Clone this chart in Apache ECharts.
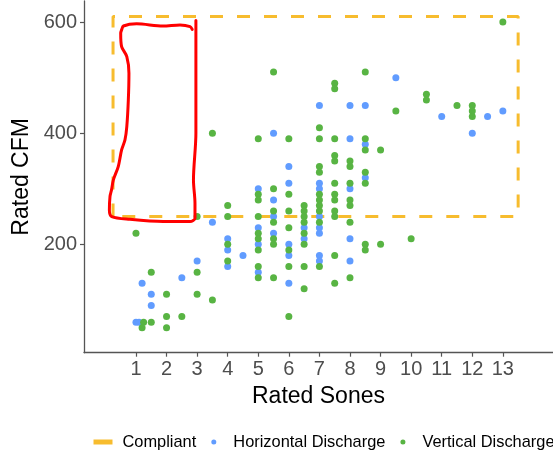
<!DOCTYPE html>
<html>
<head>
<meta charset="utf-8">
<script src="https://cdn.jsdelivr.net/npm/echarts@6/dist/echarts.min.js"></script>
<style>html,body{margin:0;padding:0;background:#fff;}#c{width:553px;height:451px;}</style>
</head>
<body>
<div id="c"></div>
<script>
// Tick labels
const xTicks = [1,2,3,4,5,6,7,8,9,10,11,12,13];
const yTicks = [200,400,600];

// Horizontal Discharge [sones, cfm]
const horizontalDischarge = [
  [1,60],[1.1,60],[1.2,130],[1.5,110],[1.5,90],[2.5,140],[3,170],[3.5,240],
  [4,210],[4,190],[4,160],[4.5,180],
  [5,300],[5,230],[5,200],[5,150],
  [5.5,400],[5.5,280],[5.5,250],[5.5,220],
  [6,340],[6,310],[6,200],[6,180],[6,130],
  [6.5,230],[6.5,210],
  [7,450],[7,310],[7,300],[7,250],[7,230],[7,220],[7,180],[7,170],
  [8,450],[8,390],[8,300],[8,210],[8,170],
  [8.5,450],[8.5,380],[8.5,320],
  [9.5,500],[11,430],[12,400],[12.5,430],[13,440]
];

// Vertical Discharge [sones, cfm]
const verticalDischarge = [
  [1,220],[1.25,60],[1.5,60],[1.2,50],[1.5,150],[2,110],[2,70],[2,50],[2.5,70],
  [3,250],[3,150],[3,110],[3.5,100],[3.5,400],
  [4,270],[4,250],[4,200],[4,170],
  [5,390],[5,290],[5,280],[5,250],[5,220],[5,210],[5,190],[5,160],[5,140],
  [5.5,510],[5.5,300],[5.5,260],[5.5,240],[5.5,210],[5.5,200],[5.5,140],
  [6,390],[6,290],[6,260],[6,230],[6,190],[6,160],[6,70],
  [6.5,270],[6.5,260],[6.5,250],[6.5,240],[6.5,220],[6.5,200],[6.5,160],[6.5,120],
  [7,410],[7,390],[7,340],[7,330],[7,290],[7,280],[7,270],[7,260],[7,240],[7,160],
  [7.5,490],[7.5,480],[7.5,390],[7.5,360],[7.5,350],[7.5,310],[7.5,290],[7.5,280],[7.5,260],[7.5,250],[7.5,180],[7.5,130],
  [8,350],[8,340],[8,310],[8,280],[8,270],[8,240],[8,140],
  [8.5,510],[8.5,390],[8.5,370],[8.5,330],[8.5,310],[8.5,200],[8.5,190],
  [9,370],[9,200],[9.5,440],[10,210],[10.5,470],[10.5,460],[11.5,450],
  [12,450],[12,440],[12,430],[13,600]
];

// Compliant region outline [sones, cfm]
const compliantBox = [[0.25,250],[0.25,610],[13.5,610],[13.5,250],[0.25,250]];

// Hand-drawn red annotation, in data units [sones, cfm]
const annotationPath = [
  [2.84,587],[2.77,592],[2.44,595],[1.88,593],[1.02,597],[0.59,593],[0.53,586],[0.50,580],
  [0.53,556],[0.70,538],[0.77,508],[0.75,460],[0.70,412],[0.64,388],[0.53,370],[0.42,340],
  [0.26,316],[0.20,298],[0.15,286],[0.13,262],[0.21,250],[0.80,245],[1.89,241],[2.77,241],
  [2.93,247],[2.93,274],[2.88,316],[2.96,400],[2.96,520],[2.96,603]
];

const FONT = 'Liberation Sans, Arial, sans-serif';
const BLUE = '#619CFF';
const GREEN = '#58B443';
const GOLD = '#F7BC2E';

const chart = echarts.init(document.getElementById('c'), null, {renderer:'canvas'});
chart.setOption({
  animation: false,
  backgroundColor: '#fff',
  grid: {left: 84, right: 0, top: 1, bottom: 98.3, containLabel: false},
  xAxis: {
    type: 'value', min: -0.7, max: 14.64,
    name: 'Rated Sones', nameLocation: 'middle', nameGap: 32,
    nameTextStyle: {fontFamily: FONT, fontSize: 23, color: '#000'},
    axisLine: {show: true, onZero: false, lineStyle: {color: '#555', width: 1.3}},
    axisTick: {show: true, length: 4, customValues: xTicks, lineStyle: {color: '#555', width: 1.2}},
    axisLabel: {customValues: xTicks, fontFamily: FONT, fontSize: 20, color: '#4D4D4D', margin: 7},
    splitLine: {show: false}
  },
  yAxis: {
    type: 'value', min: 5, max: 638,
    name: 'Rated CFM', nameLocation: 'middle', nameGap: 50, nameRotate: 90,
    nameTextStyle: {fontFamily: FONT, fontSize: 23, color: '#000'},
    axisLine: {show: true, onZero: false, lineStyle: {color: '#555', width: 1.3}},
    axisTick: {show: true, length: 4, customValues: yTicks, lineStyle: {color: '#555', width: 1.2}},
    axisLabel: {customValues: yTicks, fontFamily: FONT, fontSize: 20, color: '#4D4D4D', margin: 7},
    splitLine: {show: false}
  },
  legend: {
    left: 88.5, top: 429, itemWidth: 19, itemHeight: 5, itemGap: 15,
    textStyle: {fontFamily: FONT, fontSize: 16.4, color: '#000', padding: [0,0,0,5]},
    data: [
      {name: 'Compliant', icon: 'rect', itemStyle: {color: GOLD}},
      {name: 'Horizontal Discharge', icon: 'circle', itemStyle: {color: BLUE}},
      {name: 'Vertical Discharge', icon: 'circle', itemStyle: {color: GREEN}}
    ]
  },
  series: [
    {
      name: 'Horizontal Discharge', type: 'scatter', data: horizontalDischarge,
      symbolSize: 7, itemStyle: {color: BLUE, opacity: 1}, z: 3
    },
    {
      name: 'Vertical Discharge', type: 'scatter', data: verticalDischarge,
      symbolSize: 7, itemStyle: {color: GREEN, opacity: 1}, z: 4
    },
    {
      name: 'Compliant', type: 'line', data: compliantBox, symbol: 'none', showSymbol: false,
      color: GOLD, lineStyle: {color: GOLD, width: 3, type: [13, 14], cap: 'butt'}, z: 2, silent: true
    },
    {
      name: 'annotation', type: 'line', data: annotationPath, symbol: 'none', showSymbol: false,
      smooth: 0.3, lineStyle: {color: '#FF0000', width: 3, cap: 'round', join: 'round'}, z: 10, silent: true
    }
  ]
});
</script>
</body>
</html>
